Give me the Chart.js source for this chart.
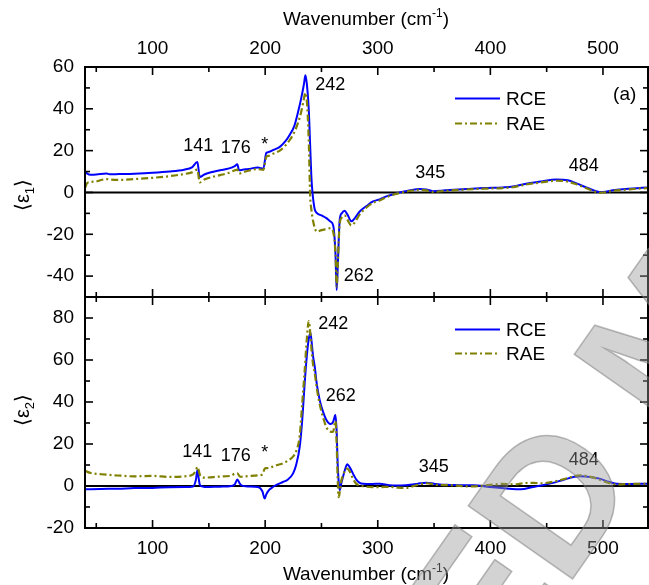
<!DOCTYPE html>
<html>
<head>
<meta charset="utf-8">
<script src="https://cdn.jsdelivr.net/npm/chart.js@4.4.0/dist/chart.umd.min.js"></script>
<style>
  html, body { margin: 0; padding: 0; background: #fff; }
  #wrap { position: relative; width: 649px; height: 585px; overflow: hidden; }
  canvas { position: absolute; left: 0; }
  #c1 { top: 0; width: 649px; height: 300px; }
  #c2 { top: 290px; width: 649px; height: 295px; }
  #wm { top: 0; width: 649px; height: 585px; pointer-events: none; }
</style>
</head>
<body>
<div id="wrap">
  <canvas id="c1" width="649" height="300"></canvas>
  <canvas id="c2" width="649" height="295"></canvas>
  <canvas id="wm" width="649" height="585"></canvas>
</div>
<script>
// axis ticks
const xTickLabels = [100, 200, 300, 400, 500];
const xMinorTicks = [50, 150, 250, 350, 450];
const yTicksTop = [60, 40, 20, 0, -20, -40];
const yMinorTop = [50, 30, 10, -10, -30];
const yTicksBot = [80, 60, 40, 20, 0, -20];
const yMinorBot = [70, 50, 30, 10, -10];

// panel (a): <eps1>
const wnTop = [40, 42, 45, 50, 59, 62, 70, 84, 100, 115,
  128, 135, 139.8, 141.9, 146, 153, 160, 168, 173, 175.3,
  176.8, 180, 185, 193.6, 198.4, 201, 203, 208, 213, 218,
  222, 226, 229, 232, 234.5, 235.7, 237, 238.7, 240, 241,
  242, 243.1, 244, 246, 250, 254.4, 258, 260.5, 262.5, 263.5,
  264.5, 266.2, 268, 270.6, 273, 276.6, 280, 284, 290, 295.8,
  301.7, 307.7, 313, 319.5, 328, 337.3, 343, 349, 360, 378.7,
  395, 411, 420, 431.8, 445, 458.5, 468.8, 477, 485.2, 492,
  497, 502, 508.8, 520, 530, 540];
const rceE1 = [10.1, 9.0, 8.5, 8.6, 9.1, 8.7, 8.8, 9.0, 9.4, 10.0,
  10.9, 12.0, 14.6, 7.4, 8.6, 9.8, 10.6, 11.5, 12.6, 13.5,
  10.6, 10.9, 11.2, 11.9, 11.4, 18.9, 19.3, 20.5, 21.8, 24.5,
  27.7, 32.0, 38.0, 45.0, 52.0, 56.0, 52.0, 40.0, 22.0, 8.0,
  0.0, -5.1, -8.0, -9.9, -11.0, -12.3, -13.9, -16.0, -30.0, -46.7,
  -35.0, -13.1, -10.0, -8.8, -10.5, -13.8, -12.0, -9.1, -6.5, -4.3,
  -3.3, -1.9, -1.0, 0.0, 0.9, 1.6, 1.4, 0.6, 1.0, 1.6,
  2.1, 2.4, 2.8, 4.2, 5.3, 6.2, 5.8, 4.2, 2.4, 1.0,
  0.2, 0.3, 1.0, 1.6, 2.0, 2.4];
const raeE1 = [2.1, 4.5, 5.0, 5.3, 6.4, 6.2, 6.0, 6.4, 7.0, 7.8,
  8.8, 9.6, 10.9, 4.8, 6.2, 7.4, 8.3, 9.4, 10.6, 10.9,
  9.0, 9.6, 10.4, 11.2, 10.8, 17.0, 17.5, 18.8, 20.0, 22.5,
  25.2, 29.0, 33.0, 38.5, 45.0, 47.7, 44.0, 25.0, -2.0, -8.0,
  -12.0, -15.0, -17.0, -18.7, -18.0, -17.5, -17.1, -19.0, -30.0, -45.0,
  -34.0, -15.0, -12.0, -11.0, -13.0, -15.8, -14.0, -10.5, -7.2, -5.0,
  -3.8, -2.3, -1.2, -0.3, 0.7, 1.3, 1.0, 0.3, 0.8, 1.4,
  1.8, 2.1, 2.5, 3.8, 4.8, 5.6, 5.2, 3.8, 2.0, 0.6,
  -0.1, 0.1, 0.8, 1.3, 1.8, 2.1];

// panel (b): <eps2>
const wnBot = [40, 45, 54.5, 69, 84, 100, 115, 128.5, 136, 138.5,
  139.8, 141, 141.9, 144, 146.3, 160, 170, 173, 175.3, 177.4,
  178.9, 185, 193.6, 197.5, 199.6, 201, 203, 205.5, 210, 215.8,
  220, 224.7, 227.5, 230.7, 233, 235.1, 237, 238.7, 240.2, 241,
  242.5, 244, 246, 248.4, 251, 254.4, 257.9, 260.3, 262.4, 263.5,
  264.3, 265.3, 266.2, 267.7, 269.1, 271, 273, 275, 278, 281,
  284, 286.9, 295, 301.7, 310.6, 318, 325, 335, 343.2, 350,
  355, 364, 375, 384.6, 399.4, 410, 423.1, 430, 437.9, 445,
  455.6, 465, 479.3, 490, 497.1, 505, 512, 525, 540];
const rceE2 = [-1.6, -1.5, -1.4, -1.3, -1.0, -0.9, -0.6, -0.5, -0.2, 3.0,
  7.5, 3.5, 0.7, -0.2, -0.5, -0.3, 0.0, 0.8, 3.1, 1.2,
  0.3, -0.2, -0.5, -2.5, -6.0, -4.0, -2.2, -1.0, 0.5, 1.9,
  3.0, 5.9, 10.0, 18.7, 32.0, 49.0, 62.0, 70.0, 72.9, 70.0,
  62.0, 56.9, 48.0, 41.0, 36.0, 31.4, 29.5, 30.5, 33.8, 26.0,
  12.0, 1.9, -2.0, 1.5, 4.3, 8.0, 10.4, 9.0, 5.9, 3.0,
  1.5, 1.1, 1.0, 1.1, 0.3, 0.2, 0.4, 1.0, 1.6, 1.1,
  0.7, 0.5, 0.3, 0.3, -0.5, -1.0, -1.6, -1.4, -0.5, 0.2,
  1.5, 3.0, 4.6, 4.2, 3.5, 2.0, 1.1, 1.0, 1.1];
const raeE2 = [7.2, 6.2, 5.6, 5.0, 4.6, 4.8, 4.3, 4.6, 5.5, 7.5,
  9.1, 7.5, 5.5, 4.3, 4.0, 4.5, 4.9, 5.9, 6.0, 4.6,
  4.4, 4.7, 5.1, 5.5, 8.3, 8.5, 8.6, 9.0, 9.9, 10.8,
  12.0, 14.0, 16.5, 24.0, 40.0, 55.0, 70.0, 78.5, 72.0, 66.0,
  58.0, 53.8, 46.0, 39.0, 33.5, 28.0, 25.9, 25.8, 31.0, 20.0,
  5.0, -5.3, -3.0, 2.7, 5.0, 7.3, 8.3, 7.0, 3.5, 1.0,
  0.3, -0.1, -0.5, -0.5, -0.4, -0.8, -0.9, 0.5, 1.3, 0.8,
  0.5, 0.4, -0.1, -0.2, 0.5, 1.0, 0.8, 1.4, 1.5, 1.3,
  2.0, 3.2, 5.1, 4.2, 3.0, 1.5, 0.8, 1.0, 1.1];

// peak labels (data coordinates)
const annTopText = ["141", "176", "*", "242", "262", "345", "484", "(a)"];
const annTopX = [140.5, 173.8, 199.6, 257.8, 283.1, 346.6, 482.9, 519.3];
const annTopY = [22.4, 21.2, 22.9, 51.2, -40.2, 9.2, 12.6, 46.9];
const annBotText = ["242", "262", "141", "176", "*", "345", "484"];
const annBotX = [260.4, 267.1, 139.6, 173.8, 199.6, 349.7, 482.9];
const annBotY = [76.9, 42.7, 16.2, 14.5, 15.6, 9.2, 12.3];

const FONT = '"Liberation Sans", Arial, sans-serif';
const BLUE = "#0000ff";
const OLIVE = "#808000";

function pts(xs, ys) {
    return xs.map((x, i) => ({ x: x, y: ys[i] }));
}

// 文字 + 上下標
function drawRich(ctx, parts, cx, baseY) {
    let w = 0;
    parts.forEach(p => {
        ctx.font = p.size + "px " + FONT;
        p.w = ctx.measureText(p.t).width;
        w += p.w;
    });
    let x = cx - w / 2;
    ctx.textAlign = "left";
    ctx.textBaseline = "alphabetic";
    parts.forEach(p => {
        ctx.font = p.size + "px " + FONT;
        ctx.fillText(p.t, x, baseY + (p.dy || 0));
        x += p.w;
    });
}

function line(ctx, x1, y1, x2, y2) {
    ctx.beginPath();
    ctx.moveTo(x1, y1);
    ctx.lineTo(x2, y2);
    ctx.stroke();
}

function noPad(s) {
    s.paddingTop = 0;
    s.paddingBottom = 0;
    s.paddingLeft = 0;
    s.paddingRight = 0;
}

const panelDecor = {
    id: "panelDecor",
    beforeDatasetsDraw(chart, args, o) {
        const { ctx, chartArea: a } = chart;
        const y0 = chart.scales.y.getPixelForValue(0);
        ctx.save();
        ctx.strokeStyle = "#000";
        ctx.lineWidth = 2;
        line(ctx, a.left, y0, a.right, y0);
        ctx.restore();
    },
    afterDraw(chart, args, o) {
        const { ctx, chartArea: a } = chart;
        const xs = chart.scales.x, ys = chart.scales.y;
        ctx.save();
        ctx.strokeStyle = "#000";
        ctx.fillStyle = "#000";

        // frame
        ctx.lineWidth = 2;
        ctx.strokeRect(a.left, a.top, a.right - a.left, a.bottom - a.top);

        // inward ticks
        ctx.lineWidth = 1.6;
        xTickLabels.concat(xMinorTicks).forEach(v => {
            const px = xs.getPixelForValue(v);
            const len = v % 100 === 0 ? 8 : 5;
            line(ctx, px, a.top, px, a.top + len);
            line(ctx, px, a.bottom, px, a.bottom - len);
        });
        o.yMajor.concat(o.yMinor).forEach(v => {
            const py = ys.getPixelForValue(v);
            const len = o.yMajor.includes(v) ? 8 : 5;
            line(ctx, a.left, py, a.left + len, py);
            line(ctx, a.right, py, a.right - len, py);
        });

        // peak labels
        ctx.textAlign = "center";
        ctx.textBaseline = "middle";
        o.annText.forEach((t, i) => {
            ctx.font = (t === "(a)" ? 19 : 18) + "px " + FONT;
            ctx.fillText(t, xs.getPixelForValue(o.annX[i]), ys.getPixelForValue(o.annY[i]));
        });

        // legend
        const lx = a.left + 370;
        chart.data.datasets.slice().sort((p, q) => p.legendIndex - q.legendIndex).forEach((ds, i) => {
            const ly = a.top + o.legendDy[i];
            ctx.strokeStyle = ds.borderColor;
            ctx.lineWidth = ds.borderWidth;
            ctx.setLineDash(ds.borderDash || []);
            line(ctx, lx, ly, lx + 45, ly);
            ctx.setLineDash([]);
            ctx.fillStyle = "#000";
            ctx.font = "19px " + FONT;
            ctx.textAlign = "left";
            ctx.textBaseline = "middle";
            ctx.fillText(ds.label, lx + 51, ly + 1);
        });

        // y title
        ctx.save();
        ctx.translate(o.yTitle[0], o.yTitle[1]);
        ctx.rotate(-Math.PI / 2);
        drawRich(ctx, [
            { t: "\u27e8", size: 20 },
            { t: "\u03b5", size: 20 },
            { t: o.sub, size: 13, dy: 5 },
            { t: "\u27e9", size: 20 }
        ], 0, 7);
        ctx.restore();

        // x title
        drawRich(ctx, [
            { t: "Wavenumber (cm", size: 19 },
            { t: "-1", size: 12, dy: -8 },
            { t: ")", size: 19 }
        ], 366, o.xTitleBase);
        ctx.restore();
    }
};

function lineSets(xs, rce, rae) {
    return [
        {
            label: "RAE", legendIndex: 1, order: 0,
            data: pts(xs, rae),
            borderColor: OLIVE, borderWidth: 2.2, borderDash: [7, 3, 2, 3],
            pointRadius: 0, fill: false, cubicInterpolationMode: "monotone"
        },
        {
            label: "RCE", legendIndex: 0, order: 1,
            data: pts(xs, rce),
            borderColor: BLUE, borderWidth: 2,
            pointRadius: 0, fill: false, cubicInterpolationMode: "monotone"
        }
    ];
}

function yScale(min, max, ticks) {
    return {
        type: "linear", position: "left", min: min, max: max,
        grid: { display: false, drawTicks: false },
        border: { display: false },
        afterBuildTicks: s => { s.ticks = ticks.map(v => ({ value: v })); },
        afterFit: s => { s.width = 85; noPad(s); },
        ticks: { color: "#000", font: { family: FONT, size: 19 }, padding: 11, callback: v => String(v) }
    };
}

function xScale(pos, show, height, pad) {
    return {
        type: "linear", position: pos, min: 40, max: 540, display: show,
        grid: { display: false, drawTicks: false },
        border: { display: false },
        afterBuildTicks: s => { s.ticks = xTickLabels.map(v => ({ value: v })); },
        afterFit: s => { s.height = height; noPad(s); },
        ticks: { color: "#000", font: { family: FONT, size: 19 }, padding: pad, maxRotation: 0, callback: v => String(v) }
    };
}

const common = {
    responsive: false,
    devicePixelRatio: 1,
    animation: false,
    events: [],
    plugins: { legend: { display: false }, tooltip: { enabled: false } }
};

new Chart(document.getElementById("c1"), {
    type: "line",
    data: { datasets: lineSets(wnTop, rceE1, raeE1) },
    options: Object.assign({}, common, {
        layout: { padding: { left: 0, right: 1, top: 0, bottom: 3 } },
        scales: {
            x: xScale("bottom", false, 0, 0),
            xTop: xScale("top", true, 67, 7),
            y: yScale(-50, 60, yTicksTop)
        },
        plugins: Object.assign({}, common.plugins, {
            panelDecor: {
                yMajor: yTicksTop, yMinor: yMinorTop, sub: "1",
                annText: annTopText, annX: annTopX, annY: annTopY,
                legendDy: [31.5, 56.5], yTitle: [22, 195], xTitleBase: 25
            }
        })
    }),
    plugins: [panelDecor]
});

new Chart(document.getElementById("c2"), {
    type: "line",
    data: { datasets: lineSets(wnBot, rceE2, raeE2) },
    options: Object.assign({}, common, {
        layout: { padding: { left: 0, right: 1, top: 7, bottom: 0 } },
        scales: {
            x: xScale("bottom", true, 57, 9),
            y: yScale(-20, 90, yTicksBot)
        },
        plugins: Object.assign({}, common.plugins, {
            panelDecor: {
                yMajor: yTicksBot, yMinor: yMinorBot, sub: "2",
                annText: annBotText, annX: annBotX, annY: annBotY,
                legendDy: [32.5, 56.5], yTitle: [22, 120], xTitleBase: 290
            }
        })
    }),
    plugins: [panelDecor]
});

// 浮水印
(function drawWatermark() {
    const ctx = document.getElementById("wm").getContext("2d");
    const text = "ACCEPTED MANUSCRIPT";
    ctx.font = "bold 185px " + FONT;
    const pre = ctx.measureText("ACCEPTE").width;
    const dW = ctx.measureText("D").width;
    ctx.save();
    ctx.translate(562, 505);
    ctx.rotate(-55 * Math.PI / 180);
    ctx.textAlign = "left";
    ctx.textBaseline = "middle";
    ctx.fillStyle = "rgba(150,150,150,0.42)";
    ctx.fillText(text, -(pre + dW / 2), 0);
    ctx.strokeStyle = "rgba(120,120,120,0.5)";
    ctx.lineWidth = 1.5;
    ctx.strokeText(text, -(pre + dW / 2), 0);
    ctx.restore();
})();
</script>
</body>
</html>
